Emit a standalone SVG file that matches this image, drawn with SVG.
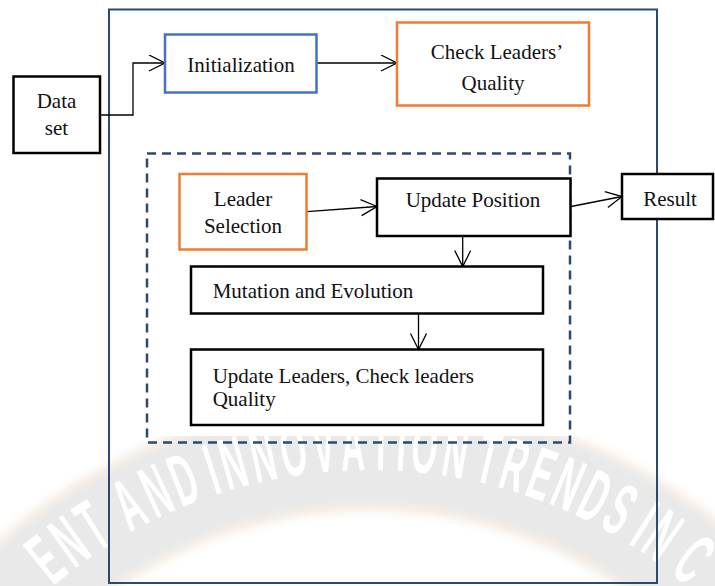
<svg xmlns="http://www.w3.org/2000/svg" width="715" height="586" viewBox="0 0 715 586">
  <defs>
    <style>
      .lbl { font-family: "Liberation Serif", "Times New Roman", serif; font-size: 21px; fill: #111; }
      .mid { text-anchor: middle; }
      .box { fill: #fff; stroke-width: 2.5; }
      .blk { stroke: #000; }
      .org { stroke: #ed7d31; }
      .blu { stroke: #4472c4; }
      .frame { fill: none; stroke: #2c4a6e; stroke-width: 2; }
      .dash { fill: none; stroke: #2c4a6e; stroke-width: 2.5; stroke-dasharray: 9 6; }
      .wire { fill: none; stroke: #000; stroke-width: 1.3; marker-end: url(#open); }
      .wm { font-family: "Liberation Sans", Arial, sans-serif; font-weight: bold; font-size: 74px; fill: #fff; text-anchor: middle; }
    </style>
    <marker id="open" markerUnits="userSpaceOnUse" markerWidth="20" markerHeight="20" refX="17" refY="8.5" orient="auto">
      <path d="M1,0.5 L17,8.5 L1,16.5" fill="none" stroke="#000" stroke-width="1.3"/>
    </marker>
    <filter id="soft" x="-10%" y="-10%" width="120%" height="120%">
      <feGaussianBlur stdDeviation="4"/>
    </filter>
  </defs>

  <rect width="715" height="586" fill="#fff"/>

  <!-- background seal band with lettering -->
  <g id="seal">
    <path d="M-16.9,635.4 A505,505 0 0 1 756.9,635.4" fill="none" stroke="#f8efe7" stroke-width="114" filter="url(#soft)"/>
    <path d="M-16.9,635.4 A505,505 0 0 1 756.9,635.4" fill="none" stroke="#e9e9e9" stroke-width="100" filter="url(#soft)"/>
    <g class="wm">
      <text transform="translate(61.6,579.2) rotate(-39) scale(0.45,1)">E</text>
      <text transform="translate(84.1,562.1) rotate(-35.7) scale(0.45,1)">N</text>
      <text transform="translate(106,547.2) rotate(-32.6) scale(0.45,1)">T</text>
      <text transform="translate(140.7,526.9) rotate(-27.9) scale(0.45,1)">A</text>
      <text transform="translate(166.8,514.1) rotate(-24.5) scale(0.45,1)">N</text>
      <text transform="translate(192.8,503.2) rotate(-21.2) scale(0.45,1)">D</text>
      <text transform="translate(219.4,493.7) rotate(-17.9) scale(0.45,1)">I</text>
      <text transform="translate(239.9,487.6) rotate(-15.4) scale(0.45,1)">N</text>
      <text transform="translate(267.9,480.7) rotate(-12) scale(0.45,1)">N</text>
      <text transform="translate(297.1,475.4) rotate(-8.55) scale(0.45,1)">O</text>
      <text transform="translate(325.8,472) rotate(-5.18) scale(0.45,1)">V</text>
      <text transform="translate(353.6,470.3) rotate(-1.92) scale(0.45,1)">A</text>
      <text transform="translate(380.5,470.1) rotate(1.23) scale(0.45,1)">T</text>
      <text transform="translate(400.1,470.9) rotate(3.52) scale(0.45,1)">I</text>
      <text transform="translate(422.2,472.8) rotate(6.12) scale(0.45,1)">O</text>
      <text transform="translate(451.7,476.9) rotate(9.6) scale(0.45,1)">N</text>
      <text transform="translate(482.7,483.1) rotate(13.3) scale(0.45,1)">T</text>
      <text transform="translate(507.9,489.8) rotate(16.35) scale(0.45,1)">R</text>
      <text transform="translate(533.5,498.1) rotate(19.49) scale(0.45,1)">E</text>
      <text transform="translate(558.6,507.7) rotate(22.64) scale(0.45,1)">N</text>
      <text transform="translate(584,519.2) rotate(25.9) scale(0.45,1)">D</text>
      <text transform="translate(607.9,531.6) rotate(29.05) scale(0.45,1)">S</text>
      <text transform="translate(631.3,545.5) rotate(32.22) scale(0.45,1)">I</text>
      <text transform="translate(648.3,556.7) rotate(34.61) scale(0.45,1)">N</text>
      <text transform="translate(678.2,579.1) rotate(38.98) scale(0.45,1)">C</text>
    </g>
  </g>

  <!-- enclosing frames -->
  <rect id="system" class="frame" x="109" y="9.5" width="548" height="573.5"/>
  <rect id="loop" class="dash" x="147" y="153.5" width="423" height="289"/>

  <!-- connectors -->
  <g id="connectors">
    <polyline class="wire" points="100,115 133,115 133,63 165,63"/>
    <line class="wire" x1="317" y1="63" x2="397" y2="63"/>
    <line class="wire" x1="307" y1="211.7" x2="377" y2="206.5"/>
    <line class="wire" x1="571" y1="206.5" x2="622" y2="196.5"/>
    <line class="wire" x1="462.7" y1="236" x2="462.7" y2="266.5"/>
    <line class="wire" x1="418.5" y1="313.5" x2="418.5" y2="349.5"/>
  </g>

  <g id="dataset">
    <rect class="box blk" x="13.5" y="76.5" width="86.5" height="76.5" stroke-width="3"/>
    <text class="lbl mid" x="56.5" y="108">Data</text>
    <text class="lbl mid" x="56.5" y="135">set</text>
  </g>

  <g id="initialization">
    <rect class="box blu" x="165" y="34.5" width="151.5" height="58"/>
    <text class="lbl mid" x="241" y="71.5">Initialization</text>
  </g>

  <g id="check-quality">
    <rect class="box org" x="397" y="22.5" width="192" height="83"/>
    <text class="lbl mid" x="497" y="59">Check Leaders’</text>
    <text class="lbl mid" x="493" y="90">Quality</text>
  </g>

  <g id="leader-selection">
    <rect class="box org" x="179.5" y="174" width="127" height="75.5"/>
    <text class="lbl mid" x="243" y="205.5">Leader</text>
    <text class="lbl mid" x="243" y="233">Selection</text>
  </g>

  <g id="update-position">
    <rect class="box blk" x="377" y="178.5" width="193.5" height="57.5"/>
    <text class="lbl mid" x="473" y="207">Update Position</text>
  </g>

  <g id="result">
    <rect class="box blk" x="622" y="174" width="91" height="45"/>
    <text class="lbl mid" x="670" y="205.5">Result</text>
  </g>

  <g id="mutation">
    <rect class="box blk" x="191" y="266.5" width="352" height="47"/>
    <text class="lbl" x="212.7" y="298">Mutation and Evolution</text>
  </g>

  <g id="update-leaders">
    <rect class="box blk" x="191" y="349.5" width="352" height="75.5"/>
    <text class="lbl" x="212.7" y="383">Update Leaders, Check leaders</text>
    <text class="lbl" x="212.7" y="405.5">Quality</text>
  </g>
</svg>
